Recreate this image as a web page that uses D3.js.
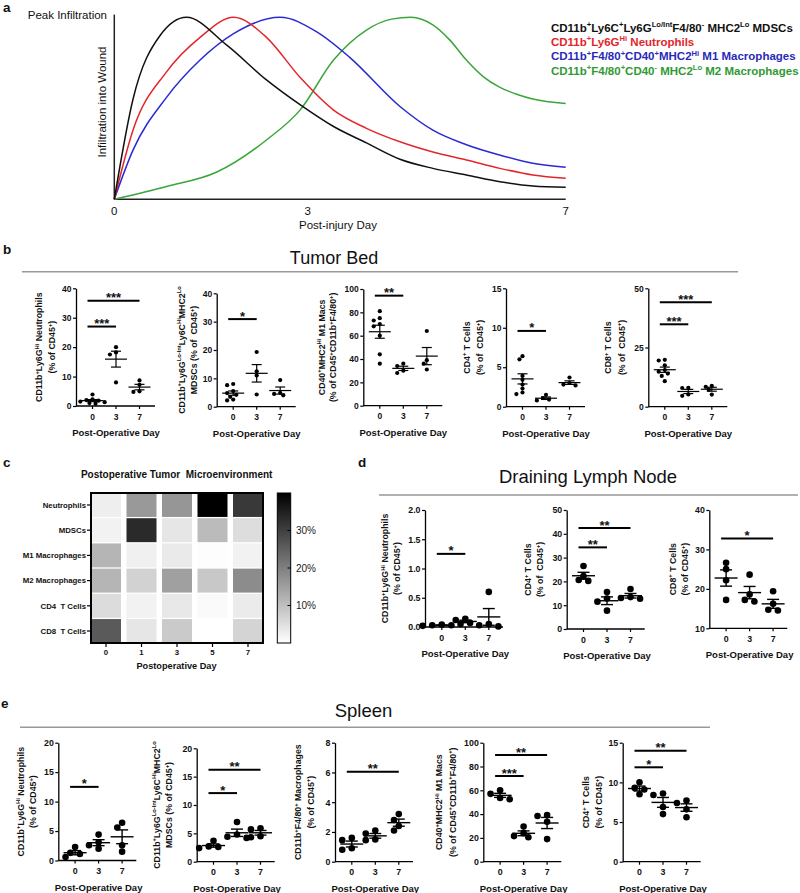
<!DOCTYPE html>
<html><head><meta charset="utf-8">
<script src="https://cdn.jsdelivr.net/npm/d3@7"></script>
<style>
body{margin:0;background:#fff;}
svg{display:block;}
text{white-space:pre;}
</style></head><body>
<svg id="fig" width="800" height="893"></svg>
<script>
// ================= DATA =================
// Panel a – schematic infiltration curves (days, normalised infiltration 0..1)
const aTicks = [0, 3, 7];
const mdscDays = [0, 0.29, 0.71, 1.12, 1.74, 2.36, 2.88, 3.40, 3.91, 4.43, 4.94, 5.46, 5.98, 6.49, 7];
const mdscVals = [0, 0.55, 0.90, 1.0, 0.848, 0.656, 0.52, 0.40, 0.31, 0.22, 0.17, 0.134, 0.097, 0.073, 0.066];
const neutDays = [0, 0.29, 0.81, 1.33, 1.85, 2.36, 2.88, 3.40, 3.91, 4.43, 4.94, 5.46, 5.98, 6.49, 7];
const neutVals = [0, 0.38, 0.70, 0.89, 1.0, 0.89, 0.67, 0.49, 0.39, 0.316, 0.26, 0.216, 0.17, 0.134, 0.115];
const m1Days = [0, 0.29, 0.81, 1.33, 1.85, 2.57, 3.14, 3.65, 4.43, 4.94, 5.46, 5.98, 6.49, 7];
const m1Vals = [0, 0.27, 0.56, 0.765, 0.91, 1.0, 0.92, 0.78, 0.51, 0.38, 0.30, 0.243, 0.198, 0.176];
const m2Days = [0, 0.81, 1.59, 2.36, 2.88, 3.40, 3.91, 4.30, 4.60, 4.94, 5.20, 5.46, 5.72, 5.98, 6.24, 6.49, 7];
const m2Vals = [0, 0.07, 0.15, 0.326, 0.49, 0.765, 0.93, 0.99, 1.0, 0.958, 0.876, 0.765, 0.674, 0.615, 0.577, 0.551, 0.527];
const aLegend = [
  "CD11b^{+}Ly6C^{+}Ly6G^{Lo/Int}F4/80^{-} MHC2^{Lo} MDSCs",
  "CD11b^{+}Ly6G^{Hi} Neutrophils",
  "CD11b^{+}F4/80^{+}CD40^{+}MHC2^{Hi} M1 Macrophages",
  "CD11b^{+}F4/80^{+}CD40^{-} MHC2^{Lo} M2 Macrophages"
];

// Post-operative days used by scatter panels
const opDays = ["0", "3", "7"];

// Panel b – Tumor Bed
const tbNeutro = [[3.9, 2.3, 2.0, 1.8, 1.5, 1.3, 1.0, 0.8], [20.0, 18.2, 17.5, 8.0], [8.7, 7.2, 5.0, 4.8]];
const tbNeutroSig = [["0", "7", 35.8, "***"], ["0", "3", 27, "***"]];
const tbMdsc = [[8.0, 7.6, 5.5, 4.8, 4.2, 3.5, 2.5, 2.2], [19.3, 12.5, 11.0, 4.3], [9.4, 4.9, 4.5, 4.0]];
const tbMdscSig = [["0", "3", 30.9, "*"]];
const tbM1 = [[81, 75, 73, 70, 68, 60, 44, 36], [36, 34, 30, 28], [64, 39, 36, 31]];
const tbM1Sig = [["0", "3", 94.3, "**"]];
const tbCd4 = [[6.4, 6.0, 3.9, 3.4, 2.8, 2.3, 1.8, 1.6], [1.5, 1.1, 0.9, 0.8], [3.7, 3.0, 2.8, 2.7]];
const tbCd4Sig = [["0", "3", 9.6, "*"]];
const tbCd8 = [[19.8, 19.5, 17.5, 15.5, 14.8, 14.0, 13.0, 10.8], [8.0, 7.9, 5.2, 4.6], [8.8, 8.4, 7.2, 5.1]];
const tbCd8Sig = [["0", "7", 44.1, "***"], ["0", "3", 34.8, "***"]];

// Panel c – heatmap (% of CD45+)
const hmDays = ["0", "1", "3", "5", "7"];
const hmRows = ["Neutrophils", "MDSCs", "M1 Macrophages", "M2 Macrophages", "CD4  T Cells", "CD8  T Cells"];
const hmNeutrophils = [2.7, 16, 16.5, 40, 31];
const hmMDSCs = [2, 33.4, 3.9, 10.7, 5.3];
const hmM1 = [11.6, 2.3, 3.3, 0.3, 2];
const hmM2 = [11.6, 7, 14.9, 8.6, 18];
const hmCD4 = [5.5, 2, 3.6, 0.8, 3.1];
const hmCD8 = [25.9, 4, 8.3, 0, 6.7];
const hmLegendTicks = [10, 20, 30];

// Panel d – Draining Lymph Node
const lnNeutro = [[0.04, 0.03, 0.03, 0.02], [0.14, 0.12, 0.07, 0.05], [0.6, 0.05, 0.03, 0.01]];
const lnNeutroSig = [["0", "3", 1.25, "*"]];
const lnCd4 = [[26.5, 22.2, 20.6, 20.2], [15.5, 12.8, 11.5, 7.7], [16.8, 13.4, 13.0, 12.7]];
const lnCd4Sig = [["0", "7", 42.4, "**"], ["0", "3", 34.3, "**"]];
const lnCd8 = [[26.6, 25.0, 22.2, 17.2], [23.6, 18.6, 17.2, 16.8], [19.4, 16.2, 14.7, 14.5]];
const lnCd8Sig = [["0", "7", 32.8, "*"]];

// Panel e – Spleen
const spNeutro = [[2.3, 1.3, 1.1, 0.6], [4.4, 3.1, 2.6, 2.0], [6.4, 5.6, 2.6, 1.5]];
const spNeutroSig = [["0", "3", 12.5, "*"]];
const spMdsc = [[3.7, 2.7, 2.6, 2.4], [7.0, 4.8, 4.4, 4.2], [5.9, 5.7, 4.5, 4.3]];
const spMdscSig = [["0", "7", 16.2, "**"], ["0", "3", 12.1, "*"]];
const spMac = [[1.6, 1.45, 0.9, 0.8], [2.1, 1.9, 1.5, 1.45], [3.2, 2.8, 2.4, 2.1]];
const spMacSig = [["0", "7", 6.05, "**"]];
const spM1 = [[60, 57, 53.5, 52.5], [29.5, 24, 21.5, 20.5], [39.2, 38.4, 33.5, 19]];
const spM1Sig = [["0", "7", 89.6, "**"], ["0", "3", 72, "***"]];
const spCd4 = [[10.0, 9.3, 9.1, 8.5], [8.6, 8.4, 6.9, 6.0], [7.7, 7.4, 6.6, 5.6]];
const spCd4Sig = [["0", "7", 14, "**"], ["0", "3", 11.9, "*"]];

// ================= DRAWING =================
const FONT = '"Liberation Sans", Arial, Helvetica, sans-serif';
const svg = d3.select("#fig").attr("font-family", FONT);

function rich(textSel, str, fs) {
  const parts = str.split(/(\^\{[^}]*\})/).filter(s => s.length);
  let inSup = false;
  parts.forEach(p => {
    const m = p.match(/^\^\{([^}]*)\}$/);
    if (m) {
      textSel.append("tspan").attr("font-size", fs * 0.66).attr("dy", -fs * 0.4).text(m[1]);
      inSup = true;
    } else {
      const t = textSel.append("tspan").text(p);
      if (inSup) { t.attr("dy", fs * 0.4); inSup = false; }
    }
  });
}

function label(x, y, txt, fs, opts = {}) {
  return svg.append("text").attr("x", x).attr("y", y)
    .attr("font-size", fs).attr("font-weight", opts.bold ? "bold" : "normal")
    .attr("text-anchor", opts.anchor || "start").attr("fill", opts.fill || "#111").text(txt);
}

// ---------- Panel a ----------
(function () {
  const ax = d3.scaleLinear().domain([0, 7]).range([114.3, 565.7]);
  const ay = d3.scaleLinear().domain([0, 1]).range([199.3, 17.3]);
  const g = svg.append("g");
  g.append("line").attr("x1", ax(0)).attr("x2", ax(0)).attr("y1", ay(0)).attr("y2", ay(1.015))
    .attr("stroke", "#222").attr("stroke-width", 1.5);
  g.append("line").attr("x1", ax(0)).attr("x2", ax(7)).attr("y1", ay(0)).attr("y2", ay(0))
    .attr("stroke", "#222").attr("stroke-width", 1.5);
  aTicks.forEach(t => g.append("text").attr("x", ax(t)).attr("y", 215).attr("text-anchor", "middle")
    .attr("font-size", 11.5).attr("fill", "#111").text(t));
  g.append("text").attr("x", 338).attr("y", 229).attr("text-anchor", "middle").attr("font-size", 11.5)
    .attr("fill", "#111").text("Post-injury Day");
  g.append("text").attr("x", 107).attr("y", 19).attr("text-anchor", "end").attr("font-size", 11.5)
    .attr("fill", "#111").text("Peak Infiltration");
  g.append("text").attr("transform", "translate(106,102) rotate(-90)").attr("text-anchor", "middle")
    .attr("font-size", 11.5).attr("fill", "#111").text("Infiltration into Wound");
  const line = d3.line().x(d => ax(d[0])).y(d => ay(d[1])).curve(d3.curveMonotoneX);
  const curves = [
    [m2Days, m2Vals, "#3aa63a"],
    [m1Days, m1Vals, "#2a2ad0"],
    [neutDays, neutVals, "#e3262b"],
    [mdscDays, mdscVals, "#111"]
  ];
  curves.forEach(([xs, ys, c]) => {
    g.append("path").datum(d3.zip(xs, ys)).attr("d", line).attr("fill", "none")
      .attr("stroke", c).attr("stroke-width", 1.5);
  });
  const legCols = ["#111", "#e3262b", "#2a2ab8", "#2f9a33"];
  aLegend.forEach((s, i) => {
    const t = g.append("text").attr("x", 551).attr("y", 31.7 + i * 14.35).attr("font-size", 11.5)
      .attr("font-weight", "bold").attr("fill", legCols[i]);
    rich(t, s, 11.5);
  });
})();

label(3, 12, "a", 13.5, { bold: true });

// ---------- scatter helper ----------
function swarm(vals, xc, y, r) {
  const pts = vals.map(v => ({ v, y: y(v) })).sort((a, b) => a.y - b.y);
  const placed = [];
  const cand = [0, -1, 1, -2, 2, -3, 3, -4, 4];
  pts.forEach(p => {
    for (const k of cand) {
      const px = xc + k * r * 1.45;
      if (placed.every(q => Math.hypot(q.x - px, q.y - p.y) >= r * 1.85)) { p.x = px; break; }
    }
    if (p.x === undefined) p.x = xc;
    placed.push(p);
  });
  return placed;
}

function drawScatter(cfg, data, sig, title, grp) {
  const g = svg.append("g");
  const x = d3.scalePoint().domain(opDays).range([cfg.left + grp.x0, cfg.left + grp.x1]);
  const y = d3.scaleLinear().domain([cfg.yMin || 0, cfg.yMax]).range([cfg.bottom, cfg.top]);
  const yAxis = d3.axisLeft(y).tickValues(cfg.ticks).tickSize(3).tickSizeOuter(0).tickPadding(1.5)
    .tickFormat(cfg.fmt ? d3.format(cfg.fmt) : d3.format("d"));
  const ya = g.append("g").attr("transform", `translate(${cfg.left},0)`).call(yAxis);
  ya.select(".domain").attr("stroke", "#000").attr("stroke-width", 1.3);
  ya.selectAll(".tick line").attr("stroke", "#000").attr("stroke-width", 1.2);
  ya.selectAll(".tick text").attr("font-family", FONT).attr("font-weight", "bold")
    .attr("font-size", grp.tickFs).attr("fill", "#111");
  const y0 = y(cfg.yMin || 0);
  g.append("line").attr("x1", cfg.left).attr("x2", cfg.left + grp.w).attr("y1", y0).attr("y2", y0)
    .attr("stroke", "#000").attr("stroke-width", 1.3);
  opDays.forEach(d => {
    g.append("line").attr("x1", x(d)).attr("x2", x(d)).attr("y1", y0).attr("y2", y0 + 3)
      .attr("stroke", "#000").attr("stroke-width", 1.2);
    g.append("text").attr("x", x(d)).attr("y", y0 + 13.5).attr("text-anchor", "middle")
      .attr("font-size", grp.tickFs).attr("font-weight", "bold").attr("fill", "#111").text(d);
  });
  g.append("text").attr("x", x("3")).attr("y", y0 + 30).attr("text-anchor", "middle")
    .attr("font-size", grp.labFs).attr("font-weight", "bold").attr("fill", "#111").text("Post-Operative Day");
  // y title
  const cy = (cfg.top + cfg.bottom) / 2;
  title.forEach((ln, k) => {
    const t = g.append("text").attr("transform", `translate(${cfg.tx[k] + grp.titleFs * 0.36},${cy}) rotate(-90)`)
      .attr("text-anchor", "middle").attr("font-size", grp.titleFs).attr("font-weight", "bold").attr("fill", "#111");
    rich(t, ln, grp.titleFs);
  });
  // points + mean ± SEM
  data.forEach((vals, i) => {
    const xc = x(opDays[i]);
    swarm(vals, xc, y, grp.r).forEach(p => {
      g.append("circle").attr("cx", p.x).attr("cy", p.y).attr("r", grp.r).attr("fill", "#000");
    });
    const m = d3.mean(vals), se = d3.deviation(vals) / Math.sqrt(vals.length);
    const L = (x1, y1, x2, y2) => g.append("line").attr("x1", x1).attr("y1", y1).attr("x2", x2).attr("y2", y2)
      .attr("stroke", "#000").attr("stroke-width", grp.lw);
    L(xc - grp.mh, y(m), xc + grp.mh, y(m));
    L(xc, y(m - se), xc, y(m + se));
    L(xc - grp.ch, y(m - se), xc + grp.ch, y(m - se));
    L(xc - grp.ch, y(m + se), xc + grp.ch, y(m + se));
  });
  // significance bars
  sig.forEach(([a, b, v, s]) => {
    const x1 = x(a) - 5, x2 = x(b);
    g.append("line").attr("x1", x1).attr("x2", x2).attr("y1", y(v)).attr("y2", y(v))
      .attr("stroke", "#000").attr("stroke-width", 2);
    g.append("text").attr("x", (x1 + x2) / 2).attr("y", y(v) + 1.5).attr("text-anchor", "middle")
      .attr("font-size", 13).attr("font-weight", "bold").attr("fill", "#111").text(s);
  });
}

const grpB = { x0: 16.5, x1: 63.5, w: 79, r: 2.1, mh: 11, ch: 5, lw: 1.2, tickFs: 8.5, labFs: 9.5, titleFs: 8.8 };
const grpD = { x0: 16.8, x1: 63.8, w: 78, r: 3.3, mh: 11.5, ch: 6, lw: 1.4, tickFs: 8.8, labFs: 9.5, titleFs: 8.8 };

// ---------- Panel b ----------
label(3, 254, "b", 13.5, { bold: true });
label(334, 264, "Tumor Bed", 18, { anchor: "middle" });
svg.append("line").attr("x1", 22).attr("x2", 738).attr("y1", 271.7).attr("y2", 271.7)
  .attr("stroke", "#999").attr("stroke-width", 1.5);

drawScatter({ left: 76, top: 288.3, bottom: 406, yMax: 40, ticks: [0, 10, 20, 30, 40], tx: [39, 52] },
  tbNeutro, tbNeutroSig, ["CD11b^{+}Ly6G^{Hi} Neutrophils", "(% of CD45^{+})"], grpB);
drawScatter({ left: 216.7, top: 293.3, bottom: 406.7, yMax: 40, ticks: [0, 10, 20, 30, 40], tx: [181.7, 194] },
  tbMdsc, tbMdscSig, ["CD11b^{+}Ly6G^{Lo-Int}Ly6C^{Hi}MHC2^{Lo}", "MDSCs (% of  CD45^{+})"], grpB);
drawScatter({ left: 363.3, top: 289, bottom: 405.7, yMax: 100, ticks: [0, 20, 40, 60, 80, 100], tx: [321.7, 333.3] },
  tbM1, tbM1Sig, ["CD40^{+}MHC2^{Hi} M1 Macs", "(% of CD45^{+}CD11b^{+}F4/80^{+})"], grpB);
drawScatter({ left: 506, top: 288.3, bottom: 406.7, yMax: 15, ticks: [0, 5, 10, 15], tx: [466.7, 480] },
  tbCd4, tbCd4Sig, ["CD4^{+} T Cells", "(% of  CD45^{+})"], grpB);
drawScatter({ left: 648.3, top: 288.3, bottom: 406.7, yMax: 50, ticks: [0, 25, 50], tx: [608.3, 621.7] },
  tbCd8, tbCd8Sig, ["CD8^{+} T Cells", "(% of  CD45^{+})"], grpB);

// ---------- Panel c ----------
label(3, 467.3, "c", 13.5, { bold: true });
label(176.7, 478, "Postoperative Tumor  Microenvironment", 10, { anchor: "middle", bold: true });
(function () {
  const hmVals = [hmNeutrophils, hmMDSCs, hmM1, hmM2, hmCD4, hmCD8];
  const hx = d3.scaleBand().domain(hmDays).range([91, 263]).paddingInner(0.155).paddingOuter(0);
  const hy = d3.scaleBand().domain(hmRows).range([493, 643]).paddingInner(0.05).paddingOuter(0);
  const col = d3.scaleLinear().domain([0, 40]).range(["#ffffff", "#000000"]).clamp(true);
  const g = svg.append("g");
  hmRows.forEach((r, i) => hmDays.forEach((d, j) => {
    g.append("rect").attr("x", hx(d)).attr("y", hy(r)).attr("width", hx.bandwidth())
      .attr("height", hy.bandwidth()).attr("fill", col(hmVals[i][j]));
  }));
  g.append("rect").attr("x", 91).attr("y", 493).attr("width", 172).attr("height", 150)
    .attr("fill", "none").attr("stroke", "#000").attr("stroke-width", 2);
  hmRows.forEach(r => {
    const cy = hy(r) + hy.bandwidth() / 2;
    g.append("line").attr("x1", 87).attr("x2", 90).attr("y1", cy).attr("y2", cy).attr("stroke", "#000").attr("stroke-width", 1.2);
    g.append("text").attr("x", 86).attr("y", cy + 2.8).attr("text-anchor", "end").attr("font-size", 7.8)
      .attr("font-weight", "bold").attr("fill", "#111").text(r);
  });
  hmDays.forEach(d => {
    const cx = hx(d) + hx.bandwidth() / 2;
    g.append("line").attr("x1", cx).attr("x2", cx).attr("y1", 644).attr("y2", 647).attr("stroke", "#000").attr("stroke-width", 1.2);
    g.append("text").attr("x", cx).attr("y", 655).attr("text-anchor", "middle").attr("font-size", 7.8)
      .attr("font-weight", "bold").attr("fill", "#111").text(d);
  });
  g.append("text").attr("x", 176.5).attr("y", 669).attr("text-anchor", "middle").attr("font-size", 9.2)
    .attr("font-weight", "bold").attr("fill", "#111").text("Postoperative Day");
  // colour legend
  const ly = d3.scaleLinear().domain([0, 40]).range([643, 493]);
  const grad = svg.append("defs").append("linearGradient").attr("id", "hmgrad")
    .attr("x1", 0).attr("x2", 0).attr("y1", 1).attr("y2", 0);
  grad.append("stop").attr("offset", 0).attr("stop-color", col(0));
  grad.append("stop").attr("offset", 1).attr("stop-color", col(40));
  g.append("rect").attr("x", 277.3).attr("y", ly(40)).attr("width", 13.4).attr("height", ly(0) - ly(40))
    .attr("fill", "url(#hmgrad)").attr("stroke", "#000").attr("stroke-width", 1);
  hmLegendTicks.forEach(t => {
    g.append("line").attr("x1", 287.5).attr("x2", 290.7).attr("y1", ly(t)).attr("y2", ly(t))
      .attr("stroke", "#000").attr("stroke-width", 1);
    g.append("text").attr("x", 296).attr("y", ly(t) + 3.5).attr("font-size", 10).attr("fill", "#222").text(t + "%");
  });
})();

// ---------- Panel d ----------
label(358, 467.3, "d", 13.5, { bold: true });
label(588, 483, "Draining Lymph Node", 18.5, { anchor: "middle" });
svg.append("line").attr("x1", 379).attr("x2", 798).attr("y1", 495).attr("y2", 495)
  .attr("stroke", "#999").attr("stroke-width", 1.5);

drawScatter({ left: 425, top: 510, bottom: 627, yMax: 2, ticks: [0, 0.5, 1, 1.5, 2], fmt: ".1f", tx: [385, 397.3] },
  lnNeutro, lnNeutroSig, ["CD11b^{+}Ly6G^{Hi} Neutrophils", "(% of CD45^{+})"], grpD);
drawScatter({ left: 566.7, top: 510, bottom: 629, yMax: 50, ticks: [0, 10, 20, 30, 40, 50], tx: [528.3, 540] },
  lnCd4, lnCd4Sig, ["CD4^{+} T Cells", "(% of  CD45^{+})"], grpD);
drawScatter({ left: 709.3, top: 510, bottom: 628.3, yMin: 10, yMax: 40, ticks: [10, 20, 30, 40], tx: [672.7, 685] },
  lnCd8, lnCd8Sig, ["CD8^{+} T Cells", "(% of CD45^{+})"], grpD);

// ---------- Panel e ----------
label(1, 707.5, "e", 13.5, { bold: true });
label(363.5, 716.5, "Spleen", 18.5, { anchor: "middle" });
svg.append("line").attr("x1", 20).attr("x2", 710).attr("y1", 727.3).attr("y2", 727.3)
  .attr("stroke", "#999").attr("stroke-width", 1.5);

drawScatter({ left: 58.3, top: 742.7, bottom: 860.5, yMax: 20, ticks: [0, 5, 10, 15, 20], tx: [20.7, 33.3] },
  spNeutro, spNeutroSig, ["CD11b^{+}Ly6G^{Hi} Neutrophils", "(% of CD45^{+})"], grpD);
drawScatter({ left: 196.7, top: 748.3, bottom: 861.7, yMax: 20, ticks: [0, 5, 10, 15, 20], tx: [156.7, 169.3] },
  spMdsc, spMdscSig, ["CD11b^{+}Ly6G^{Lo-Int}Ly6C^{Hi}MHC2^{Lo}", "MDSCs (% of CD45^{+})"], grpD);
drawScatter({ left: 335, top: 742.7, bottom: 861.7, yMax: 8, ticks: [0, 2, 4, 6, 8], tx: [298.3, 310.7] },
  spMac, spMacSig, ["CD11b^{+}F4/80^{+} Macrophages", "(% of CD45^{+})"], grpD);
drawScatter({ left: 483.3, top: 742.7, bottom: 861.7, yMax: 100, ticks: [0, 20, 40, 60, 80, 100], tx: [439.3, 452.7] },
  spM1, spM1Sig, ["CD40^{+}MHC2^{Hi} M1 Macs", "(% of CD45^{+}CD11b^{+}F4/80^{+})"], grpD);
drawScatter({ left: 622.7, top: 742.7, bottom: 861.7, yMax: 15, ticks: [0, 5, 10, 15], tx: [586, 599.3] },
  spCd4, spCd4Sig, ["CD4^{+} T Cells", "(% of CD45^{+})"], grpD);
</script>
</body></html>
